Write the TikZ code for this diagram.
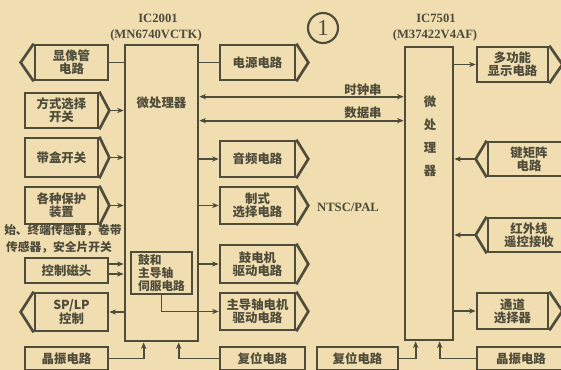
\documentclass[tikz,border=0pt]{standalone}
\usepackage{fontspec}
\setmainfont{Liberation Serif}
\newfontfamily\cjk{Noto Sans CJK SC}
\usetikzlibrary{calc,arrows.meta}
\definecolor{bg}{RGB}{240,222,176}
\definecolor{ln}{RGB}{78,76,58}
\newcommand\pxu{0.75pt}
\tikzset{
  box/.style={draw=ln, line width=2pt, inner sep=1pt, align=center, text=ln,
    font=\cjk\bfseries\fontsize{9.3}{10}\selectfont},
  edge/.style={draw=ln, line width=2pt, line join=miter},
  conn/.style={draw=ln, line width=1.4pt},
  arr/.style={-{Stealth[length=5pt,width=4pt]}},
  darr/.style={{Stealth[length=5pt,width=4pt]}-{Stealth[length=5pt,width=4pt]}},
  lbl/.style={text=ln, font=\cjk\bfseries\fontsize{9.3}{10}\selectfont, inner sep=0pt},
  ser/.style={text=ln, font=\bfseries\fontsize{9.5}{11}\selectfont, inner sep=0pt},
}
\begin{document}
\begin{tikzpicture}[x=0.75pt,y=-0.75pt]
\useasboundingbox (0,0) rectangle (561,370);
\fill[bg] (0,0) rectangle (561,370);

% ICs
\node[box, minimum width=73*\pxu, minimum height=296*\pxu] (ic1) at (161.5,193) {};
\node[lbl] (ic1t) at (161.5,103) {微处理器};
\node[ser] (ic1n) at (158,18) {IC2001};
\node[ser] (ic1m) at (156,35) {(MN6740VCTK)};

\node[box, minimum width=48*\pxu, minimum height=293*\pxu] (ic2) at (429,193.5) {};
\node[lbl, align=center, font=\cjk\bfseries\fontsize{9.3}{17.3}\selectfont] (ic2t) at (430,136) {微\\处\\理\\器};
\node[ser] (ic2n) at (436,18) {IC7501};
\node[ser] (ic2m) at (435,35) {(M37422V4AF)};

\node[draw=ln, line width=1.6pt, circle, minimum size=30*\pxu, inner sep=0pt, text=ln,
  font=\fontsize{17}{17}\selectfont] (one) at (323,28) {1};

% left column
\node[box, minimum width=73*\pxu, minimum height=35*\pxu] (L1) at (71.5,62.5) {显像管\\电路};
\coordinate (L1t) at ($(L1.west)+(-13,0)$);
\draw[edge] (L1.north west) -- (L1t) -- (L1.south west);

\node[box, minimum width=73*\pxu, minimum height=35*\pxu] (L2) at (61.5,110.5) {方式选择\\开关};
\coordinate (L2t) at ($(L2.east)+(10,0)$);
\draw[edge] (L2.north east) -- (L2t) -- (L2.south east);

\node[box, minimum width=73*\pxu, minimum height=39*\pxu] (L3) at (61.5,157.5) {带盒开关};
\coordinate (L3t) at ($(L3.east)+(10,0)$);
\draw[edge] (L3.north east) -- (L3t) -- (L3.south east);

\node[box, minimum width=73*\pxu, minimum height=37*\pxu] (L4) at (61.5,205.5) {各种保护\\装置};
\coordinate (L4t) at ($(L4.east)+(10,0)$);
\draw[edge] (L4.north east) -- (L4t) -- (L4.south east);

\node[lbl, anchor=west, align=left, font=\cjk\bfseries\fontsize{8.8}{12.7}\selectfont] (sens) at (4,238.5)
  {始、终端传感器，卷带\\\,传感器，安全片开关};

\node[box, minimum width=83*\pxu, minimum height=25*\pxu] (L5) at (66.5,270.5) {控制磁头};

\node[box, minimum width=73*\pxu, minimum height=38*\pxu] (L6) at (71.5,312) {SP/LP\\控制};
\coordinate (L6t) at ($(L6.west)+(-13,0)$);
\draw[edge] (L6.north west) -- (L6t) -- (L6.south west);

\node[box, minimum width=83*\pxu, minimum height=23*\pxu] (L7) at (66.5,358.5) {晶振电路};

% middle column
\node[box, minimum width=75*\pxu, minimum height=35*\pxu] (M1) at (257.5,62.5) {电源电路};
\coordinate (M1t) at ($(M1.east)+(12,0)$);
\draw[edge] (M1.north east) -- (M1t) -- (M1.south east);

\node[box, minimum width=75*\pxu, minimum height=36*\pxu] (M2) at (257.5,159) {音频电路};
\coordinate (M2t) at ($(M2.east)+(12,0)$);
\draw[edge] (M2.north east) -- (M2t) -- (M2.south east);

\node[box, minimum width=75*\pxu, minimum height=37*\pxu] (M3) at (257.5,205.5) {制式\\选择电路};
\coordinate (M3t) at ($(M3.east)+(12,0)$);
\draw[edge] (M3.north east) -- (M3t) -- (M3.south east);
\node[ser] (ntsc) at (348,207) {NTSC/PAL};

\node[box, minimum width=75*\pxu, minimum height=38*\pxu] (M4) at (257.5,264) {鼓电机\\驱动电路};
\coordinate (M4t) at ($(M4.east)+(12,0)$);
\draw[edge] (M4.north east) -- (M4t) -- (M4.south east);

\node[box, minimum width=75*\pxu, minimum height=37*\pxu] (M5) at (257.5,311.5) {主导轴电机\\驱动电路};
\coordinate (M5t) at ($(M5.east)+(12,0)$);
\draw[edge] (M5.north east) -- (M5t) -- (M5.south east);

\node[box, minimum width=85*\pxu, minimum height=23*\pxu] (M6) at (262.5,358.5) {复位电路};
\node[box, minimum width=81*\pxu, minimum height=23*\pxu] (RR) at (357.5,358.5) {复位电路};

% servo block inside IC2001
\node[box, align=left, minimum width=61*\pxu, minimum height=42*\pxu, inner sep=2pt,
  font=\cjk\bfseries\fontsize{8.8}{9.6}\selectfont] (S) at (161.5,273) {鼓和\\主导轴\\伺服电路};

% right column
\node[box, minimum width=71*\pxu, minimum height=35*\pxu] (R1) at (512.5,64.5) {多功能\\显示电路};
\coordinate (R1t) at ($(R1.east)+(13,0)$);
\draw[edge] (R1.north east) -- (R1t) -- (R1.south east);

\node[box, minimum width=82*\pxu, minimum height=34*\pxu] (R2) at (529,159) {键矩阵\\电路};
\coordinate (R2t) at ($(R2.west)+(-11,0)$);
\draw[edge] (R2.north west) -- (R2t) -- (R2.south west);

\node[box, minimum width=82*\pxu, minimum height=34*\pxu] (R3) at (529,235) {红外线\\遥控接收};
\coordinate (R3t) at ($(R3.west)+(-11,0)$);
\draw[edge] (R3.north west) -- (R3t) -- (R3.south west);

\node[box, minimum width=71*\pxu, minimum height=36*\pxu] (R4) at (512.5,311) {通道\\选择器};
\coordinate (R4t) at ($(R4.east)+(13,0)$);
\draw[edge] (R4.north east) -- (R4t) -- (R4.south east);

\node[box, minimum width=88*\pxu, minimum height=23*\pxu] (R5) at (521,358.5) {晶振电路};

% connectors left
\draw[conn] (L1.east) -- (L1.east -| ic1.west);
\draw[conn,arr] (L2t) -- (L2t -| ic1.west);
\draw[conn,arr] (L3t) -- (L3t -| ic1.west);
\draw[conn,arr] (L4t) -- (L4t -| ic1.west);
\coordinate (L5a) at ($(L5.east)+(0,-6.5)$);
\coordinate (L5b) at ($(L5.east)+(0,3.5)$);
\draw[conn,arr] (L5a) -- (L5a -| ic1.west);
\draw[conn,arr] (L5b) -- (L5b -| ic1.west);
\draw[conn,arr] (L6.east -| ic1.west) -- (L6.east);
\draw[conn,arr] (L7.east) -| ($(ic1.south west)+(20,0)$);

% connectors middle
\draw[conn] (ic1.east |- M1.west) -- (M1.west);
\coordinate (ck) at ($(ic1.north east)+(0,53)$);
\coordinate (dt) at ($(ic1.north east)+(0,77)$);
\draw[conn,darr] (ck) -- (ck -| ic2.west);
\draw[conn,darr] (dt) -- (dt -| ic2.west);
\node[lbl] (tck) at (363,90) {时钟串};
\node[lbl] (tdt) at (363,113) {数据串};
\draw[conn,arr] (ic1.east |- M2.west) -- (M2.west);
\draw[conn,arr] (ic1.east |- M3.west) -- (M3.west);
\draw[conn,arr] (ic1.east |- M4.west) -- (M4.west);
\draw[conn,arr] (S.south) |- (M5.west);
\draw[conn,arr] (M6.west) -| ($(ic1.south west)+(55,0)$);

% connectors right
\draw[conn,arr] (ic2.east |- R1.west) -- (R1.west);
\draw[conn,arr] (R2t) -- (R2t -| ic2.east);
\draw[conn,arr] (R3t) -- (R3t -| ic2.east);
\draw[conn,arr] (ic2.east |- R4.west) -- (R4.west);
\draw[conn,arr] (RR.east) -| ($(ic2.south west)+(12,0)$);
\draw[conn,arr] (R5.west) -| ($(ic2.south west)+(36,0)$);
\end{tikzpicture}
\end{document}
